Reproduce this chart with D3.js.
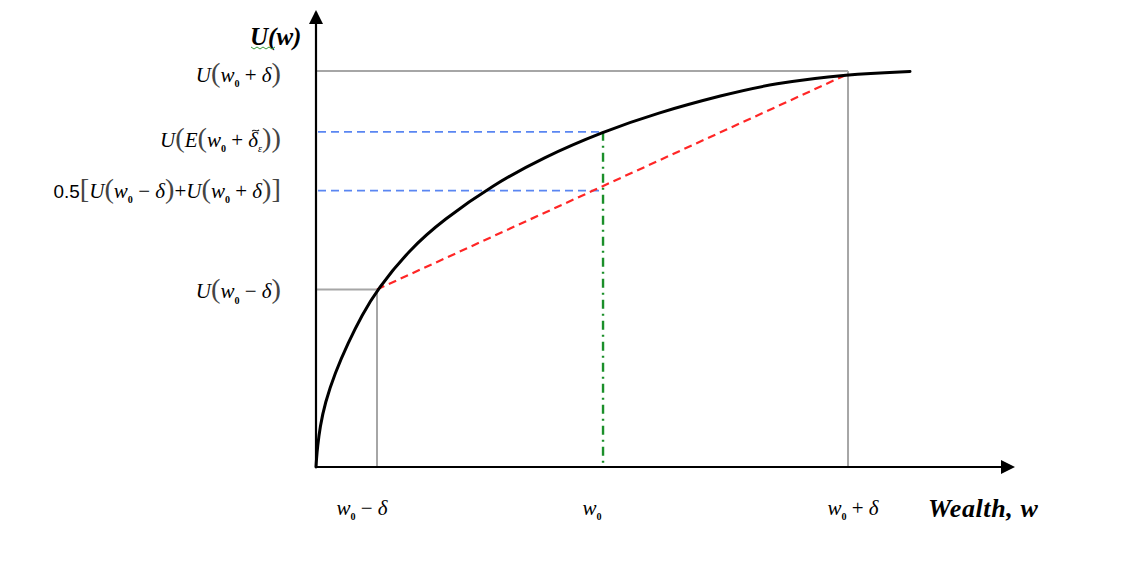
<!DOCTYPE html>
<html>
<head>
<meta charset="utf-8">
<script src="https://cdn.jsdelivr.net/npm/d3@7"></script>
<style>
  html, body { margin: 0; padding: 0; background: #ffffff; }
  svg { display: block; }
  text { white-space: pre; }
</style>
</head>
<body>
<svg id="chart" width="1127" height="564"></svg>
<script>
// ---- data ----
const curveW = [0, 0.07, 0.22, 0.58, 1.29, 2.73, 4.60, 6.62, 8.78, 13.52, 18.27, 25.47, 32.66, 41.29, 49.06, 58.56, 65.75, 76.55, 85.47];
const curveU = [0, 1.77, 4.42, 8.83, 14.13, 20.75, 27.37, 33.55, 39.18, 48.12, 54.53, 62.25, 68.32, 74.02, 78.15, 82.12, 84.66, 86.76, 87.31];
const xTickValues = [8.78, 41.3, 76.55];
const xTickLabels = ["w₀ − δ", "w₀", "w₀ + δ"];
const yTickValues = [87.4, 74.0, 61.0, 39.2];
const yTickLabels = ["U(w₀ + δ)", "U(E(w₀ + δ~ᵋ))", "0.5[U(w₀ − δ)+U(w₀ + δ)]", "U(w₀ − δ)"];
const yAxisTitle = "U(w)";
const xAxisTitle = "Wealth, w";

// ---- layout ----
const x = d3.scaleLinear().domain([0, 100]).range([316, 1011]);
const y = d3.scaleLinear().domain([0, 100]).range([467, 14]);
const svg = d3.select("#chart");
const SERIF = "'Liberation Serif', 'Times New Roman', serif";
const SANS = "'Liberation Sans', Arial, sans-serif";

svg.append("defs").append("marker")
  .attr("id", "arrow").attr("markerUnits", "userSpaceOnUse")
  .attr("viewBox", "0 0 14 14").attr("refX", 12).attr("refY", 7)
  .attr("markerWidth", 14).attr("markerHeight", 14).attr("orient", "auto")
  .append("path").attr("d", "M0,0 L14,7 L0,14 Z").attr("fill", "#000");

const wMinus = xTickValues[0], w0 = xTickValues[1], wPlus = xTickValues[2];
const uPlus = yTickValues[0], uE = yTickValues[1], uMid = yTickValues[2], uMinus = yTickValues[3];
const uPlusCurve = curveU[curveW.indexOf(wPlus)];

// gray guide lines
const gray = svg.append("g").attr("stroke", "#a6a6a6").attr("stroke-width", 2).attr("fill", "none");
gray.append("line").attr("x1", x(0)).attr("x2", x(wPlus)).attr("y1", y(uPlus)).attr("y2", y(uPlus));
gray.append("line").attr("x1", x(wPlus)).attr("x2", x(wPlus)).attr("y1", y(uPlus)).attr("y2", y(0));
gray.append("line").attr("x1", x(0)).attr("x2", x(wMinus)).attr("y1", y(uMinus)).attr("y2", y(uMinus));
gray.append("line").attr("x1", x(wMinus)).attr("x2", x(wMinus)).attr("y1", y(uMinus)).attr("y2", y(0));

// blue dashed lines
const blue = svg.append("g").attr("stroke", "#5a86f2").attr("stroke-width", 1.8).attr("stroke-dasharray", "8,5");
[uE, uMid].forEach(u => {
  blue.append("line").attr("x1", x(0) + 2).attr("x2", x(w0)).attr("y1", y(u)).attr("y2", y(u));
});

// green dash-dot vertical
svg.append("line").attr("x1", x(w0)).attr("x2", x(w0)).attr("y1", y(uE)).attr("y2", y(0))
  .attr("stroke", "#1b8f2a").attr("stroke-width", 2.4).attr("stroke-dasharray", "9,5,2,5");

// red dashed chord
svg.append("line").attr("x1", x(wMinus)).attr("y1", y(uMinus)).attr("x2", x(wPlus)).attr("y2", y(uPlusCurve))
  .attr("stroke", "#ff2626").attr("stroke-width", 2.2).attr("stroke-dasharray", "8,5");

// utility curve
const line = d3.line().x((d, i) => x(curveW[i])).y((d, i) => y(curveU[i])).curve(d3.curveBasis);
svg.append("path").datum(curveW).attr("d", line)
  .attr("fill", "none").attr("stroke", "#000").attr("stroke-width", 3).attr("stroke-linecap", "round");

// axes
svg.append("line").attr("x1", x(0)).attr("y1", y(0)).attr("x2", x(0)).attr("y2", y(100) - 2)
  .attr("stroke", "#000").attr("stroke-width", 2.2).attr("marker-end", "url(#arrow)");
svg.append("line").attr("x1", x(0) - 1).attr("y1", y(0)).attr("x2", x(100) + 2).attr("y2", y(0))
  .attr("stroke", "#000").attr("stroke-width", 2.2).attr("marker-end", "url(#arrow)");

// math-style label renderer
function addMath(sel, str, size) {
  const chars = Array.from(str);
  let shift = 0;
  let prev = null;
  for (let i = 0; i < chars.length; i++) {
    const c = chars[i];
    if (c === "~") { if (prev) prev.classed("tilde-base", true); continue; }
    const t = sel.append("tspan");
    let target = 0;
    if (c === "₀" || c === "ᵋ") {
      target = size * 0.25;
      t.text(c === "₀" ? "0" : "ε").attr("font-size", size * 0.48)
        .attr("font-style", c === "ᵋ" ? "italic" : "normal").attr("font-family", SERIF)
        .attr("font-weight", c === "₀" ? "bold" : "normal");
    } else if ("()[]".includes(c)) {
      t.text(c).attr("font-size", size * 1.35).attr("fill", "#444").attr("font-family", SERIF);
    } else if (/[0-9.]/.test(c)) {
      t.text(c).attr("font-family", SANS).attr("font-size", size * 0.9);
    } else if (/[A-Za-zδ]/.test(c)) {
      t.text(c).attr("font-style", "italic").attr("font-family", SERIF);
    } else if (c === " ") {
      t.text("\u00a0").attr("font-family", SERIF);
    } else {
      t.text(c).attr("font-family", SERIF);
    }
    const dy = target - shift;
    if (Math.abs(dy) > 0.01) t.attr("dy", dy);
    shift = target;
    prev = t;
  }
}

// y tick labels
const yLabelDy = [11, 15, 7, 9];
yTickLabels.forEach((lab, i) => {
  const t = svg.append("text").attr("x", 281).attr("y", y(yTickValues[i]) + yLabelDy[i])
    .attr("text-anchor", "end").attr("font-size", 21).attr("fill", "#000").attr("font-family", SERIF);
  addMath(t, lab, 21);
});

// x tick labels
const xLabelDx = [-15, -11, 5];
xTickLabels.forEach((lab, i) => {
  const t = svg.append("text").attr("x", x(xTickValues[i]) + xLabelDx[i]).attr("y", 515)
    .attr("text-anchor", "middle").attr("font-size", 21).attr("fill", "#000").attr("font-family", SERIF);
  addMath(t, lab, 21);
});

// tilde accents drawn as small strokes above their base glyphs
svg.selectAll("tspan.tilde-base").each(function () {
  const b = this.getBBox();
  const x0 = b.x + b.width * 0.25 + 1, y0 = b.y + 2;
  svg.append("path")
    .attr("d", `M${x0},${y0 + 1.5} C${x0 + 2},${y0 - 1.5} ${x0 + 4.5},${y0 + 3} ${x0 + 7},${y0}`)
    .attr("fill", "none").attr("stroke", "#222").attr("stroke-width", 1.1);
});

// axis titles
svg.append("text").attr("x", 250).attr("y", 45).attr("font-family", SERIF)
  .attr("font-size", 25).attr("font-weight", "bold").attr("font-style", "italic").text(yAxisTitle);
svg.append("path").attr("d", d3.range(0, 27, 3).map((d, i) => (i ? "L" : "M") + (251 + d) + "," + (47 + (i % 2 ? 2 : 0))).join(" "))
  .attr("fill", "none").attr("stroke", "#3a9a3a").attr("stroke-width", 1);
svg.append("text").attr("x", 928).attr("y", 517).attr("font-family", SERIF).attr("letter-spacing", 0.6)
  .attr("font-size", 26).attr("font-weight", "bold").attr("font-style", "italic").text(xAxisTitle);
</script>
</body>
</html>
